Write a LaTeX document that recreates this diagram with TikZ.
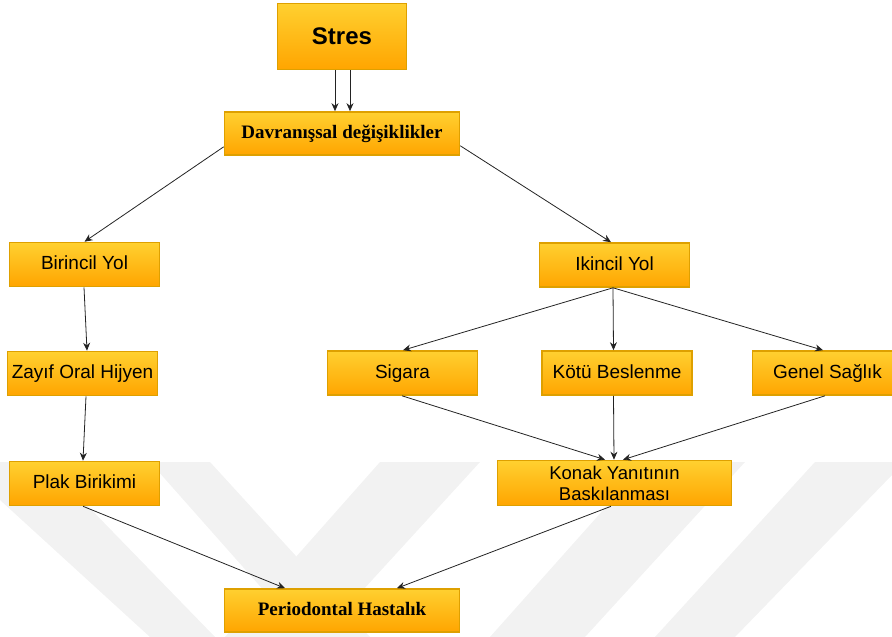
\documentclass[tikz,border=0pt]{standalone}
\usepackage{fontspec}
\setmainfont{Liberation Serif}
\setsansfont{Liberation Sans}
\usetikzlibrary{arrows.meta}
\definecolor{boxtop}{RGB}{255,208,48}
\definecolor{boxbot}{RGB}{255,165,0}
\definecolor{boxline}{RGB}{222,160,0}
\definecolor{wm}{RGB}{242,242,242}
\definecolor{arr}{RGB}{35,35,35}
\begin{document}
\begin{tikzpicture}[x=1pt,y=-1pt,
 box/.style={draw=boxline, line width=1.6pt, top color=boxtop, bottom color=boxbot, inner sep=0pt, align=center, text=black, font=\sffamily\fontsize{19}{21.5}\selectfont},
 sbox/.style={box, minimum width=150pt, minimum height=44pt, text height=13.5pt, text depth=3.5pt},
 serifbox/.style={box, font=\bfseries\fontsize{19}{22}\selectfont, minimum width=235pt, minimum height=43pt, text height=13pt, text depth=4pt},
 conn/.style={draw=arr, line width=0.8pt, -{Stealth[length=8pt,width=7pt]}},
 wmark/.style={fill=wm, draw=none}
]
\useasboundingbox (0,0) rectangle (892,637);
\clip (0,0) rectangle (892,637);
% faint watermark
\path[wmark] (0,462) -- (45,462) -- (215,637) -- (150,637) -- (0,500) -- cycle;
\path[wmark] (150,462) -- (210,462) -- (370,637) -- (305,637) -- cycle;
\path[wmark] (380,462) -- (480,462) -- (320,637) -- (225,637) -- cycle;
\path[wmark] (646,462) -- (745,462) -- (585,637) -- (490,637) -- cycle;
\path[wmark] (815,462) -- (892,462) -- (892,475) -- (735,637) -- (655,637) -- cycle;
% nodes
\node[box, font=\sffamily\bfseries\fontsize{24}{28}\selectfont, minimum width=129pt, minimum height=66pt] (stres) at (342,36.5) {Stres};
\node[serifbox] (dav) at (342,133.5) {Davranışsal değişiklikler};
\node[sbox] (bir) at (84.5,264.5) {Birincil Yol};
\node[sbox] (iki) at (614.5,265) {Ikincil Yol};
\node[sbox] (zay) at (82.5,373.5) {Zayıf Oral Hijyen};
\node[sbox] (sig) at (402.5,373) {Sigara};
\node[sbox] (kot) at (617,373) {Kötü Beslenme};
\node[sbox] (gen) at (827.5,373) {Genel Sağlık};
\node[sbox] (plak) at (84.5,483.5) {Plak Birikimi};
\node[box, minimum width=234pt, minimum height=45pt, font=\sffamily\fontsize{18.5}{21}\selectfont] (kon) at (614.5,483) {Konak Yanıtının\\Baskılanması};
\node[serifbox] (per) at (342,610.5) {Periodontal Hastalık};
% connectors
\draw[conn] ([xshift=-7pt]stres.south) -- ([xshift=-7pt]dav.north);
\draw[conn] ([xshift=8pt]stres.south) -- ([xshift=8pt]dav.north);
\draw[conn] ([yshift=9pt]dav.south west) -- (bir.north);
\draw[conn] ([yshift=10pt]dav.south east) -- ([xshift=-3.5pt]iki.north);
\draw[conn] ([xshift=-0.5pt]bir.south) -- ([xshift=4.5pt]zay.north);
\draw[conn] ([xshift=3.5pt]zay.south) -- ([xshift=-1.5pt]plak.north);
\draw[conn] ([xshift=-1.5pt]iki.south) -- ([xshift=0.5pt]sig.north);
\draw[conn] ([xshift=-1.5pt]iki.south) -- ([xshift=-3.5pt]kot.north);
\draw[conn] ([xshift=-1.5pt]iki.south) -- ([xshift=-4.5pt]gen.north);
\draw[conn] ([xshift=-0.5pt]sig.south) -- ([xshift=-9.5pt]kon.north);
\draw[conn] ([xshift=-3.5pt]kot.south) -- ([xshift=-0.5pt]kon.north);
\draw[conn] ([xshift=-2.5pt]gen.south) -- ([xshift=8.5pt]kon.north);
\draw[conn] ([xshift=-1.5pt]plak.south) -- ([xshift=-57pt]per.north);
\draw[conn] ([xshift=-3.5pt]kon.south) -- ([xshift=55pt]per.north);
\end{tikzpicture}
\end{document}
